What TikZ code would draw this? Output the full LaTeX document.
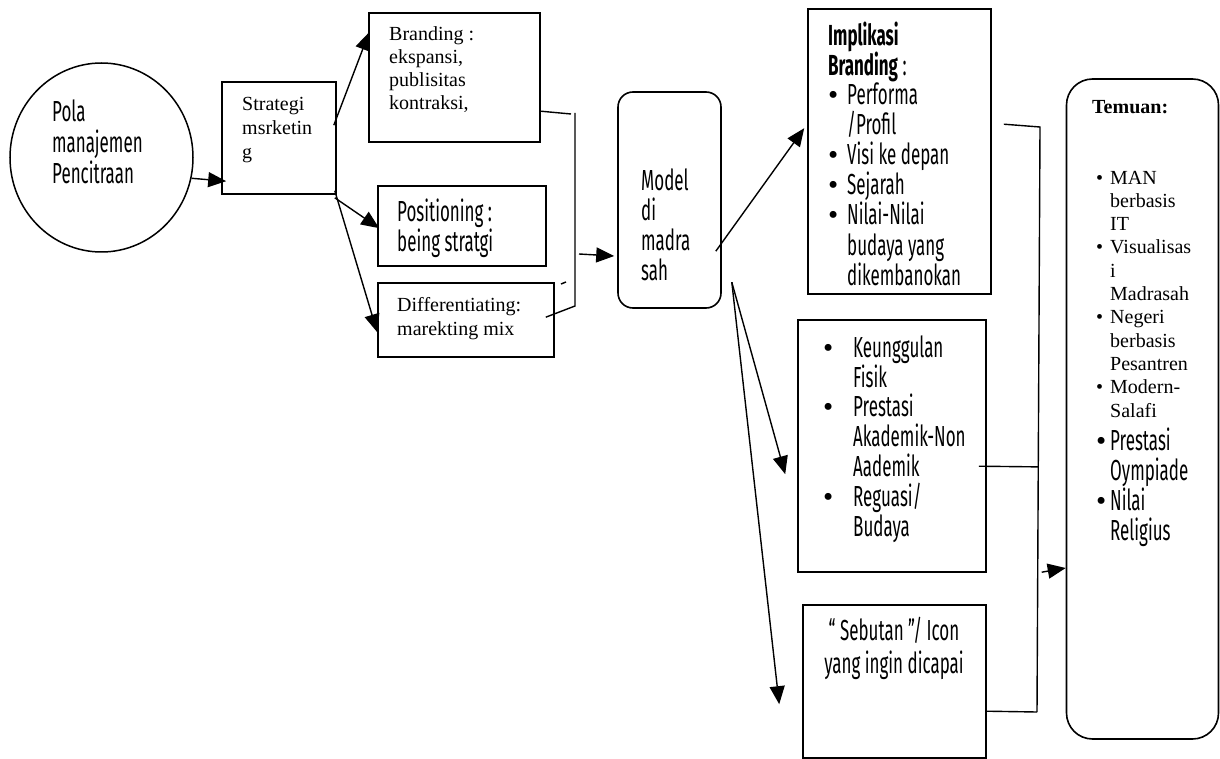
\documentclass[tikz,border=0pt]{standalone}
\usepackage{fontspec}
\setmainfont{Liberation Serif}
\newfontfamily\ag[FakeStretch=0.585]{Fira Sans}
\newfontfamily\tnr{Liberation Serif}
\usetikzlibrary{shapes.geometric,arrows.meta,calc}
\tikzset{
  box/.style={draw, line width=1.6pt, inner sep=0pt},
  rbox/.style={box, rounded corners=#1},
  oval/.style={draw, ellipse, line width=1.5pt, inner sep=0pt},
  agtxt/.style={font=\ag\fontsize{29}{#1}\selectfont, align=left, inner sep=0pt, anchor=base west},
  tnrtxt/.style={font=\tnr\fontsize{20}{#1}\selectfont, align=left, inner sep=0pt, anchor=base west},
  conn/.style={line width=1.4pt},
  arr/.style={conn, -{Triangle[length=18pt,width=15pt]}},
}
\newcommand{\bulA}[1]{\makebox[#1][l]{\tnr •}}
\begin{document}
\begin{tikzpicture}[x=1pt,y=-1pt]
\useasboundingbox (0,0) rectangle (1220,759);
\fill[white] (0,0) rectangle (1220,759);

% boxes
\node[oval, minimum width=183pt, minimum height=189pt] (circ) at (101.5,157.5) {};
\node[box, minimum width=114pt, minimum height=112pt] (strat) at (279,138) {};
\node[box, minimum width=171pt, minimum height=129pt] (brand) at (454.5,77.5) {};
\node[box, minimum width=168pt, minimum height=80pt] (posn) at (462,226) {};
\node[box, minimum width=176pt, minimum height=74pt] (diff) at (466,320) {};
\node[rbox=15pt, minimum width=103pt, minimum height=216pt] (model) at (669.5,200) {};
\node[box, minimum width=183pt, minimum height=285pt] (impl) at (899.5,151.5) {};
\node[box, minimum width=188pt, minimum height=252pt] (mid) at (892,446) {};
\node[box, minimum width=183pt, minimum height=153pt] (sebut) at (894.5,681.5) {};
\node[rbox=26pt, minimum width=152pt, minimum height=660pt] (temuan) at (1142.5,409) {};

% texts (anchor = baseline of the last line)
\node[agtxt=31] (tpola) at (52,184) {Pola\\manajemen\\Pencitraan};
\node[tnrtxt=24] (tstrat) at (242,159) {Strategi\\msrketin\\g};
\node[tnrtxt=23] (tbrand) at (389,110) {Branding :\\ekspansi,\\publisitas\\kontraksi,};
\node[agtxt=30] (tposn) at (397,252) {Positioning :\\being stratgi};
\node[tnrtxt=24] (tdiff) at (397,335) {Differentiating:\\marekting mix};
\node[agtxt=30] (tmodel) at (641,280) {Model\\di\\madra\\sah};
\node[agtxt=30] (timpl) at (828,285) {\textbf{Implikasi}\\\textbf{Branding} :\\
  \bulA{19pt}Performa\\\hspace*{19pt}/Profil\\
  \bulA{19pt}Visi ke depan\\
  \bulA{19pt}Sejarah\\
  \bulA{19pt}Nilai-Nilai\\\hspace*{19pt}budaya yang\\\hspace*{19pt}dikembanokan};
\node[agtxt=29.8] (tmid) at (823,536) {\bulA{30pt}Keunggulan\\\hspace*{30pt}Fisik\\
  \bulA{30pt}Prestasi\\\hspace*{30pt}Akademik-Non\\\hspace*{30pt}Aademik\\
  \bulA{30pt}Reguasi/\\\hspace*{30pt}Budaya};
\node[font=\ag\fontsize{29}{33}\selectfont, align=center, inner sep=0pt, anchor=base] (tsebut) at (894,673) {“ Sebutan ”/ Icon\\yang ingin dicapai};
\node[tnrtxt=24] (ttem) at (1092,114) {\textbf{Temuan:}};
\node[tnrtxt=23.3] (ttemA) at (1096,417) {\makebox[14pt][l]{•}MAN\\\hspace*{14pt}berbasis\\\hspace*{14pt}IT\\
  \makebox[14pt][l]{•}Visualisas\\\hspace*{14pt}i\\\hspace*{14pt}Madrasah\\
  \makebox[14pt][l]{•}Negeri\\\hspace*{14pt}berbasis\\\hspace*{14pt}Pesantren\\
  \makebox[14pt][l]{•}Modern-\\\hspace*{14pt}Salafi};
\node[agtxt=29.7] (ttemB) at (1096,540) {\bulA{14pt}Prestasi\\\hspace*{14pt}Oympiade\\\bulA{14pt}Nilai\\\hspace*{14pt}Religius};

% junction coordinates
\coordinate (j1) at (575,113);
\coordinate (j2) at (575,306);
\coordinate (tk) at (561,284);
\coordinate (v1) at (1040,127);
\coordinate (v2) at (1037,712);

% connectors
\draw[arr] (circ.-13) -- ($(strat.north west)+(5,100)$);
\draw[arr] ($(strat.north east)+(-3,44)$) -- ($(brand.north west)+(1,20)$);
\draw[arr] ($(strat.south east)+(-2,3)$) -- ($(posn.north west)+(2,43)$);
\draw[arr] ($(strat.south east)+(-2,-4)$) -- ($(diff.north west)+(0,50)$);
\draw[conn] ($(brand.north east)+(0,99)$) -- ($(j1)+(-4,1)$);
\draw[conn] (j1) -- (j2) -- ($(diff.north east)+(-9,35)$);
\draw[conn] (tk) -- ($(tk)+(5,-2)$);
\draw[arr] ($(j2)+(4,-52)$) -- ($(model.west)+(-3,56)$);
\draw[arr] ($(model.north east)+(-6,160)$) -- ($(impl.north west)+(-3,120)$);
\draw[arr] ($(model.north east)+(10,191)$) -- ($(mid.north west)+(-12,155)$);
\draw[arr] ($(model.north east)+(10,191)$) -- ($(sebut.north west)+(-23,100)$);
\draw[conn] ($(impl.north east)+(12,116)$) -- (v1) -- (v2);
\draw[conn] ($(sebut.north east)+(0,107)$) -- (v2);
\draw[conn] ($(mid.north east)+(-8,147)$) -- ($(v1)!0.581!(v2)$);
\draw[arr] ($(v1)!0.761!(v2)+(4,0)$) -- ($(temuan.west)+(0,159)$);
\end{tikzpicture}
\end{document}
